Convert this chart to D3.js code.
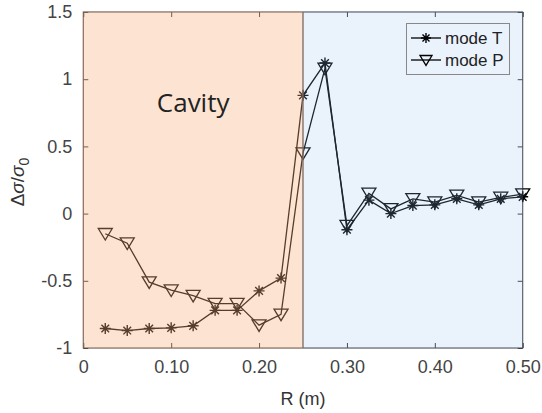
<!DOCTYPE html>
<html><head><meta charset="utf-8">
<script src="https://cdn.jsdelivr.net/npm/d3@7"></script>
<style>
body{margin:0;background:#fff;}
text{font-family:"Liberation Sans",Arial,sans-serif;}
</style></head>
<body><svg id="c" width="542" height="413"></svg>
<script>
const R = [0.025,0.05,0.075,0.10,0.125,0.15,0.175,0.20,0.225,0.25,0.275,0.30,0.325,0.35,0.375,0.40,0.425,0.45,0.475,0.50];
const modeT = [-0.855,-0.87,-0.855,-0.85,-0.835,-0.72,-0.72,-0.575,-0.48,0.88,1.12,-0.12,0.10,0.0,0.06,0.065,0.11,0.065,0.11,0.125];
const modeP = [-0.15,-0.22,-0.51,-0.57,-0.61,-0.67,-0.67,-0.83,-0.75,0.45,1.08,-0.09,0.15,0.035,0.11,0.085,0.135,0.085,0.12,0.145];
const xTicks = [0,0.1,0.2,0.3,0.4,0.5];
const xTickLabels = ["0","0.10","0.20","0.30","0.40","0.50"];
const yTicks = [-1,-0.5,0,0.5,1,1.5];
const yTickLabels = ["-1","-0.5","0","0.5","1","1.5"];
const regions = [{name:"cavity",x0:0,x1:0.25},{name:"outside",x0:0.25,x1:0.5}];

const L=83.3, Rr=522.7, T=12, B=348;
const x = d3.scaleLinear().domain([0,0.5]).range([L,Rr]);
const y = d3.scaleLinear().domain([-1,1.5]).range([B,T]);
const svg = d3.select("#c");
const axisCol = "#333";

// axes box
svg.append("rect").attr("x",L).attr("y",T).attr("width",Rr-L).attr("height",B-T)
  .attr("fill","#fff").attr("stroke",axisCol).attr("stroke-width",1);

const xAx = svg.append("g").attr("transform",`translate(0,${B})`)
  .call(d3.axisBottom(x).tickValues(xTicks).tickFormat((d,i)=>xTickLabels[i]).tickSizeInner(-5).tickSizeOuter(0).tickPadding(12));
const xAxTop = svg.append("g").attr("transform",`translate(0,${T})`)
  .call(d3.axisTop(x).tickValues(xTicks).tickFormat("").tickSizeInner(-5).tickSizeOuter(0));
const yAx = svg.append("g").attr("transform",`translate(${L},0)`)
  .call(d3.axisLeft(y).tickValues(yTicks).tickFormat((d,i)=>yTickLabels[i]).tickSizeInner(-5).tickSizeOuter(0).tickPadding(11));
const yAxR = svg.append("g").attr("transform",`translate(${Rr},0)`)
  .call(d3.axisRight(y).tickValues(yTicks).tickFormat("").tickSizeInner(-5).tickSizeOuter(0));
[xAx,xAxTop,yAx,yAxR].forEach(g=>{
  g.select(".domain").remove();
  g.selectAll("line").attr("stroke",axisCol);
  g.selectAll("text").attr("fill","#444").style("font-size","18px").style("font-family","'Liberation Sans',Arial,sans-serif");
});
xAx.selectAll("text").attr("dy","0.71em");

// series
const line = d3.line().x((d,i)=>x(R[i])).y(d=>y(d));
function drawSeries(vals, marker){
  svg.append("path").datum(vals).attr("d",line).attr("fill","none").attr("stroke","#000").attr("stroke-width",1.3);
  const g = svg.append("g");
  vals.forEach((v,i)=>marker(g, x(R[i]), y(v)));
}
function star(g,cx,cy,s=5.5){
  const p = `M${cx-s},${cy}L${cx+s},${cy}M${cx},${cy-s}L${cx},${cy+s}`+
    `M${cx-s*0.7},${cy-s*0.7}L${cx+s*0.7},${cy+s*0.7}M${cx-s*0.7},${cy+s*0.7}L${cx+s*0.7},${cy-s*0.7}`;
  g.append("path").attr("d",p).attr("stroke","#000").attr("stroke-width",1.4).attr("fill","none");
}
function tri(g,cx,cy,s=7){
  const p = `M${cx-s},${cy-s*0.75}L${cx+s},${cy-s*0.75}L${cx},${cy+s*0.9}Z`;
  g.append("path").attr("d",p).attr("stroke","#000").attr("stroke-width",1.3).attr("fill","none");
}
drawSeries(modeT, star);
drawSeries(modeP, tri);

// translucent region overlays
const regionFill = {cavity:"rgb(249,178,126)", outside:"rgb(150,195,240)"};
const regionOp = {cavity:0.35, outside:0.2};
svg.selectAll("rect.reg").data(regions).enter().append("rect").attr("class","reg")
  .attr("x",d=>x(d.x0)-0.5).attr("width",d=>x(d.x1)-x(d.x0)+(d.name==="outside"?1:0.5))
  .attr("y",T-0.5).attr("height",B-T+1)
  .attr("fill",d=>regionFill[d.name]).attr("fill-opacity",d=>regionOp[d.name]);
svg.append("line").attr("x1",x(0.25)).attr("x2",x(0.25)).attr("y1",T).attr("y2",B)
  .attr("stroke","#7a6a60").attr("stroke-width",1.3);

// Cavity label
svg.append("text").attr("x",x(0.125)).attr("y",y(0.755)).attr("text-anchor","middle")
  .style("font-size","26px").style("font-family","'Open Sans','DejaVu Sans',sans-serif").attr("fill","#222").text("Cavity");

// legend
const lg = svg.append("g");
lg.append("rect").attr("x",406.5).attr("y",23.5).attr("width",103).attr("height",51)
  .attr("fill","#eaf3fc").attr("stroke","#888").attr("stroke-width",1);
const items=[{label:"mode T",m:star,yy:38},{label:"mode P",m:tri,yy:60}];
items.forEach(it=>{
  lg.append("line").attr("x1",411).attr("x2",441).attr("y1",it.yy).attr("y2",it.yy).attr("stroke","#000").attr("stroke-width",1.3);
  it.m(lg,426,it.yy, it.label==="mode T"?5:6);
  lg.append("text").attr("x",445).attr("y",it.yy+6).style("font-size","17px").attr("fill","#222").text(it.label);
});

// axis labels
svg.append("text").attr("x",(L+Rr)/2).attr("y",405).attr("text-anchor","middle")
  .style("font-size","18px").attr("fill","#333").text("R (m)");
const yl = svg.append("text").attr("transform",`translate(24,${(T+B)/2+2}) rotate(-90)`).attr("text-anchor","middle")
  .style("font-size","19px").attr("fill","#333");
yl.append("tspan").text("Δ");
yl.append("tspan").style("font-style","italic").text("σ");
yl.append("tspan").text("/");
yl.append("tspan").style("font-style","italic").text("σ");
yl.append("tspan").attr("dy","5").style("font-size","14px").text("0");
</script></body></html>
